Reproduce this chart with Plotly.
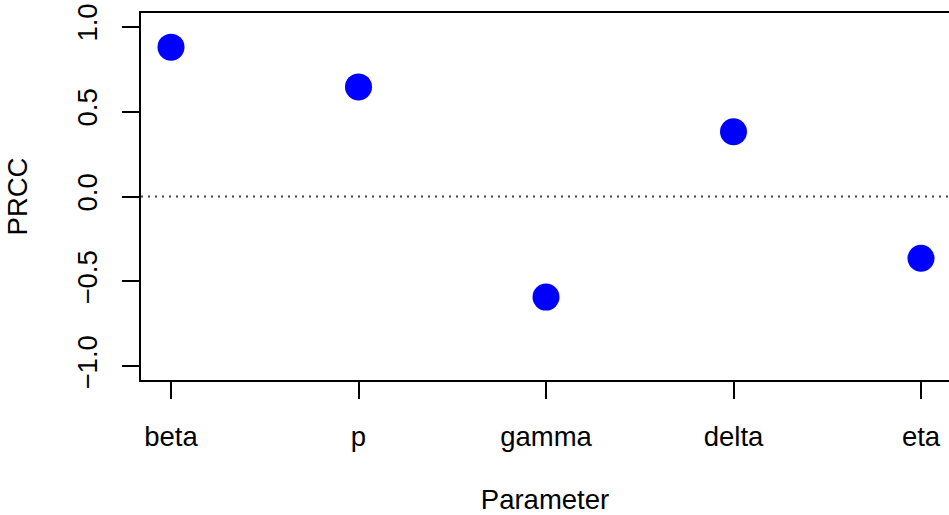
import plotly.graph_objects as go

parameters = ["beta", "p", "gamma", "delta", "eta"]
prcc = [0.879, 0.645, -0.592, 0.381, -0.363]
x_pos = [1, 2, 3, 4, 5]
y_ticks = [-1.0, -0.5, 0.0, 0.5, 1.0]
y_tick_labels = ["\u22121.0", "\u22120.5", "0.0", "0.5", "1.0"]

FONT = "Liberation Sans, Arial, Helvetica, sans-serif"
FS = 27.5

fig = go.Figure()
fig.add_trace(go.Scatter(
    x=x_pos, y=prcc, mode="markers",
    marker=dict(color="#0000FF", size=27, line=dict(width=0)),
    showlegend=False, hoverinfo="x+y",
))

fig.add_shape(type="line", xref="paper", yref="y", x0=0, x1=1, y0=0, y1=0,
              line=dict(color="#444444", width=2, dash="2px,5px"), layer="below")

fig.update_layout(
    width=949, height=515,
    margin=dict(l=141, r=0, t=13, b=135),
    paper_bgcolor="white", plot_bgcolor="white",
    font=dict(family=FONT, size=FS, color="black"),
    xaxis=dict(
        range=[0.84, 0.84 + 808 / 187.5],
        tickmode="array", tickvals=x_pos, ticktext=parameters,
        showgrid=False, zeroline=False,
        showline=True, linecolor="black", linewidth=2, mirror=True,
        ticks="outside", ticklen=17, tickwidth=2, tickcolor="black",
        ticklabelstandoff=14,
        title=dict(text="Parameter", standoff=40, font=dict(size=FS)),
    ),
    yaxis=dict(
        range=[-1.08, 1.08],
        tickmode="array", tickvals=y_ticks, ticktext=y_tick_labels,
        tickangle=-90,
        showgrid=False, zeroline=False,
        showline=True, linecolor="black", linewidth=2, mirror=False,
        ticks="outside", ticklen=17, tickwidth=2, tickcolor="black",
        ticklabelstandoff=14,
        title=dict(text="PRCC", standoff=36, font=dict(size=FS)),
    ),
)

fig.write_html("out.html")
